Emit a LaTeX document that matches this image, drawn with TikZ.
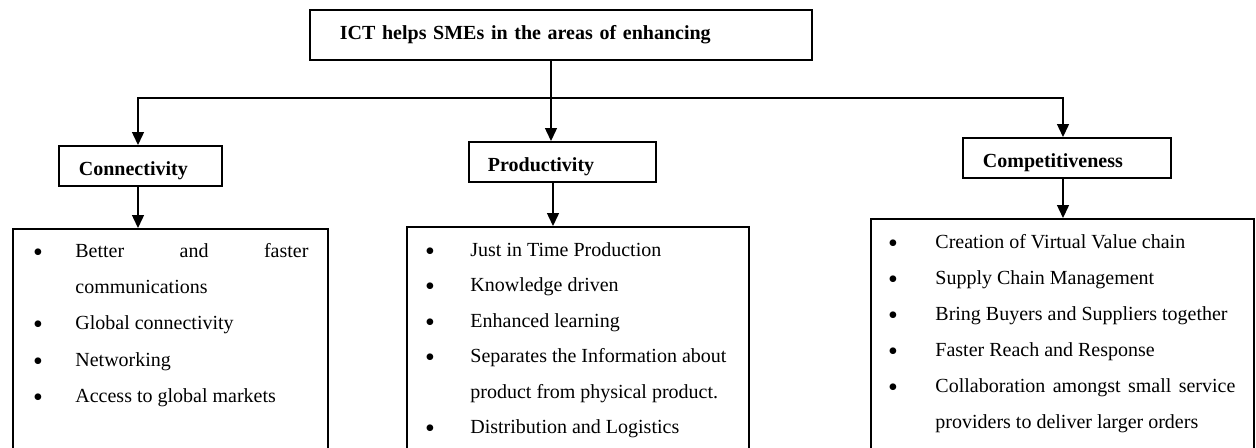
\documentclass[tikz,border=0pt]{standalone}
\usepackage{fontspec}
\setmainfont{Liberation Serif}
\usetikzlibrary{arrows.meta}
\begin{document}
\begin{tikzpicture}[x=0.5pt,y=-0.5pt,
  font=\fontsize{10pt}{12pt}\selectfont,
  hbox/.style={draw, line width=0.9pt, anchor=north west, inner ysep=0pt, align=left},
  lbl/.style={hbox, font=\fontsize{10pt}{12pt}\selectfont\bfseries, minimum height=20pt, text height=9.5pt, text depth=0pt},
  listbox/.style={draw, line width=0.9pt, anchor=north west, minimum height=130pt, inner sep=0pt},
  tip/.tip={Triangle[width=6pt,length=6.5pt]},
  link/.style={line width=0.7pt, -tip},
  item/.style={anchor=base west, inner sep=0pt},
  bul/.style={anchor=base, inner sep=0pt, yshift=-2pt, font=\fontsize{14pt}{14pt}\selectfont}]
\useasboundingbox (0,0) rectangle (1256,447);
\clip (0,0) rectangle (1256,447);

% header boxes
\node[hbox, font=\fontsize{10pt}{12pt}\selectfont\bfseries, minimum height=25pt, text width=221pt, inner xsep=15pt] (top) at (309,9) {ICT helps SMEs in the areas of enhancing};
\node[lbl, text width=61.5pt, inner xsep=10pt] (conn) at (58,145) {Connectivity};
\node[lbl, text width=74.5pt, inner xsep=9.5pt] (prod) at (468,141) {Productivity};
\node[lbl, text width=84pt, inner xsep=10pt] (comp) at (962,137) {Competitiveness};

% list boxes
\node[listbox, minimum width=157.5pt] (l1) at (12,228) {};
\node[listbox, minimum width=171pt] (l2) at (406,226) {};
\node[listbox, minimum width=191.5pt] (l3) at (870,218) {};

% connectors
\coordinate (hl) at (138,98);
\coordinate (hm) at (551,98);
\coordinate (hr) at (1063,98);
\coordinate (pm) at (553,0);
\draw[link] (top.south -| hm) -- (prod.north -| hm);
\draw[line width=0.7pt, tip-tip] (conn.north -| hl) -- (hl) -- (hr) -- (comp.north -| hr);
\draw[link] (conn.south -| hl) -- (l1.north -| hl);
\draw[link] (prod.south -| pm) -- (l2.north -| pm);
\draw[link] (comp.south -| hr) -- (l3.north -| hr);

% connectivity list
\node[bul] (b11) at (38,257) {\textbullet};
\node[item] (t11) at (75,257) {\makebox[116.5pt][s]{Better and faster}};
\node[item] (t12) at (75,293) {communications};
\node[bul] (b12) at (38,329) {\textbullet};
\node[item] (t13) at (75,329) {Global connectivity};
\node[bul] (b13) at (38,366) {\textbullet};
\node[item] (t14) at (75,366) {Networking};
\node[bul] (b14) at (38,402) {\textbullet};
\node[item] (t15) at (75,402) {Access to global markets};

% productivity list
\node[bul] (b21) at (430,256) {\textbullet};
\node[item] (t21) at (470,256) {Just in Time Production};
\node[bul] (b22) at (430,291.5) {\textbullet};
\node[item] (t22) at (470,291.5) {Knowledge driven};
\node[bul] (b23) at (430,327) {\textbullet};
\node[item] (t23) at (470,327) {Enhanced learning};
\node[bul] (b24) at (430,362.5) {\textbullet};
\node[item] (t24) at (470,362.5) {Separates the Information about};
\node[item] (t25) at (470,398) {product from physical product.};
\node[bul] (b26) at (430,433.5) {\textbullet};
\node[item] (t26) at (470,433.5) {Distribution and Logistics};

% competitiveness list
\node[bul] (b31) at (893,248) {\textbullet};
\node[item] (t31) at (935,248) {Creation of Virtual Value chain};
\node[bul] (b32) at (893,284) {\textbullet};
\node[item] (t32) at (935,284) {Supply Chain Management};
\node[bul] (b33) at (893,320) {\textbullet};
\node[item] (t33) at (935,320) {Bring Buyers and Suppliers together};
\node[bul] (b34) at (893,356) {\textbullet};
\node[item] (t34) at (935,356) {Faster Reach and Response};
\node[bul] (b35) at (893,392) {\textbullet};
\node[item] (t35) at (935,392) {\makebox[150pt][s]{Collaboration amongst small service}};
\node[item] (t36) at (935,428) {providers to deliver larger orders};
\end{tikzpicture}
\end{document}
